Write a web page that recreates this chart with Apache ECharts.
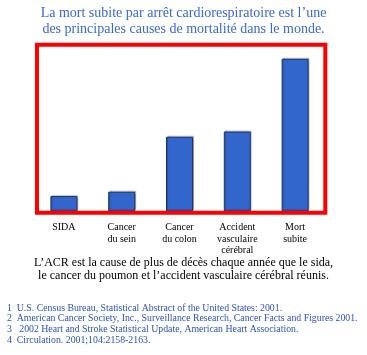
<!DOCTYPE html>
<html><head><meta charset="utf-8">
<script src="https://cdn.jsdelivr.net/npm/echarts@6/dist/echarts.min.js"></script>
<style>html,body{margin:0;padding:0;background:#fff}#c{width:367px;height:355px}</style>
</head><body><div id="c"></div>
<script>
const categories = ['SIDA', 'Cancer\ndu sein', 'Cancer\ndu colon', 'Accident\nvasculaire\ncérébral', 'Mort\nsubite'];
const values = [47, 60, 227, 243, 464];
const titleLines = "La mort subite par arrêt cardiorespiratoire est l’une\ndes principales causes de mortalité dans le monde.";
const captionLines = "L’ACR est la cause de plus de décès chaque année que le sida,\nle cancer du poumon et l’accident vasculaire cérébral réunis.";
const footnotes = [
  '1  U.S. Census Bureau, Statistical Abstract of the United States: 2001.',
  '2  American Cancer Society, Inc., Surveillance Research, Cancer Facts and Figures 2001.',
  '3   2002 Heart and Stroke Statistical Update, American Heart Association.',
  '4  Circulation. 2001;104:2158-2163.'
];
const serif = '"Liberation Serif", "DejaVu Serif", serif';
const chart = echarts.init(document.getElementById('c'), null, {renderer: 'canvas'});
const option = {
  animation: false,
  backgroundColor: '#fff',
  title: [{
    text: titleLines, left: 'center', top: 0,
    textStyle: {fontFamily: serif, fontSize: 14, fontWeight: 'normal', color: '#3a68d4', lineHeight: 16}
  }, {
    text: captionLines, left: 'center', top: 251,
    textStyle: {fontFamily: serif, fontSize: 12, fontWeight: 'normal', color: '#000', lineHeight: 13.5}
  }, {
    text: footnotes.join('\n'), left: 2, top: 298,
    textStyle: {fontFamily: serif, fontSize: 9.8, fontWeight: 'normal', color: '#2a52bf', lineHeight: 10.6}
  }],
  grid: {left: 35, right: 43, top: 47, bottom: 143.5},
  xAxis: {
    type: 'category', data: categories,
    axisLine: {show: false}, axisTick: {show: false},
    axisLabel: {fontFamily: serif, fontSize: 10, color: '#000', margin: 10, lineHeight: 11.7, interval: 0}
  },
  yAxis: {type: 'value', min: 0, max: 500, show: false, splitLine: {show: false}},
  series: [{
    type: 'bar', data: values, barWidth: 27,
    itemStyle: {color: '#3366cc', borderColor: '#1d3566', borderWidth: 1,
      shadowColor: 'rgba(0,0,0,0.25)', shadowBlur: 1, shadowOffsetX: 1, shadowOffsetY: -1}
  }],
  graphic: [{
    type: 'rect', z: 100, silent: true,
    shape: {x: 37, y: 44.7, width: 288.3, height: 168},
    style: {fill: 'none', stroke: '#ff0000', lineWidth: 4}
  }]
};
chart.setOption(option);
</script></body></html>
